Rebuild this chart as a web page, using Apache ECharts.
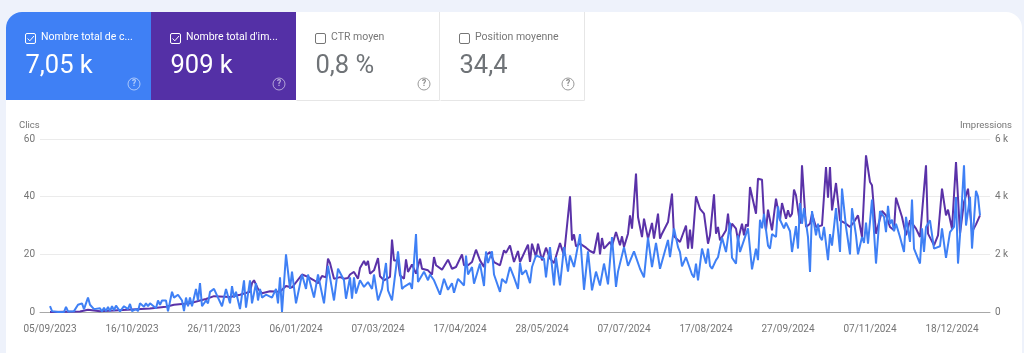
<!DOCTYPE html>
<html><head><meta charset="utf-8">
<style>html,body{margin:0;padding:0;background:#eef2fb;overflow:hidden}#c{width:1024px;height:353px}</style>
<script src="https://cdn.jsdelivr.net/npm/echarts@6/dist/echarts.min.js"></script>
</head><body><div id="c"></div>
<script>
// Each pair: [day index along the axis, value]
const clicks = [[0,2],[1,.3],[4,0],[7,0],[8,1.8],[9,.2],[12,.3],[14,2.5],[15,3],[16,3],[17,1],[19,5],[20,2.5],[22,1],[23,.7],[25,1.3],[26,.2],[27,1.5],[28,.3],[29,1.8],[30,.3],[31,2],[32,.6],[33,2.2],[35,.2],[37,2],[39,1],[40,2.8],[41,.3],[43,1],[44,.3],[45,3],[47,1.8],[48,3],[49,2],[50,3],[51,2.5],[53,1.3],[54,4],[55,2.5],[56,4],[58,4],[59,.2],[61,7],[62,5],[63,5],[64,6],[66,4],[67,.3],[68,5],[69,2],[70,5],[71,2],[73,8],[74,4],[75,10],[76,2],[78,4],[79,3],[80,7],[82,8],[84,5],[86,2],[88,8],[90,3],[91,9],[92,5],[93,7],[95,1],[97,11],[98,1.5],[100,11],[101,3],[103,10],[104,4],[105,8],[106,5],[108,6],[111,5],[113,8],[114,3],[115,12],[116,0],[118,20],[120,8],[121,14],[123,3],[126,13],[128,8],[129,13],[132,5],[134,13],[137,3],[139,16],[142,4],[144,15],[145,14.5],[147,11],[148,4.6],[150,12],[151,4.6],[152,12],[153,6.4],[155,11],[157,8.7],[159,10.4],[161,8],[162,13],[164,4],[166,8],[168,17],[169,7.5],[171,4],[174,21],[176,8],[177,8.7],[180,10],[181,8],[183,27],[184,10.4],[187,14],[189,11],[190,13],[192,11],[195,6],[197,11.5],[199,7.7],[201,10],[202,6.7],[204,11.5],[207,9.2],[208,19.6],[209,13],[211,15.6],[212,9.8],[215,16.8],[217,9],[218,21],[219,17],[221,21],[222,13],[225,7],[226,11.5],[228,10],[230,15.6],[232,12],[234,8],[235,17],[236,13],[238,14.5],[240,10],[241,15.6],[243,19.6],[247,18.5],[248,12],[249,18],[250,22.5],[252,9.2],[253,19],[255,9.2],[257,22.5],[259,14],[260,19.6],[262,15.6],[265,27],[267,7.7],[269,21],[271,7.5],[273,14],[275,9.2],[277,16.8],[279,9.6],[281,26],[283,8.7],[284,14],[287,22.5],[289,16],[290,16.2],[292,21],[295,15],[297,12],[299,25.8],[301,15.6],[303,24],[305,15],[309,25],[310,19],[312,29],[314,22.5],[315,20.8],[316,15.8],[318,19],[319,18.5],[321,13],[322,12],[323,16.8],[324,11],[326,22],[328,16.8],[329,22],[330,16],[331,15],[333,18],[334,19],[336,25.8],[338,20.8],[340,31],[341,18.8],[343,16.8],[344,26.6],[345,20.8],[348,27],[349,29],[351,14.8],[353,22],[354,18],[355,32],[356,29],[357,34],[359,23],[360,22],[361,27],[363,26],[364,36.6],[365,32],[367,29],[368,31],[370,28],[371,20.8],[373,29.8],[374,22],[375,37.8],[376,30.6],[377,36],[379,26],[380,13.9],[381,35],[383,26.6],[384,30.6],[385,26],[386,24.9],[387,29.5],[389,18],[390,27],[391,23],[393,36],[395,20.8],[396,42.8],[398,29.5],[400,20],[401,36],[403,26.6],[404,20],[406,26],[407,24],[408,31],[409,23.7],[411,39],[413,16.8],[415,35],[417,33],[418,27.7],[419,36.8],[420,30.6],[421,32],[422,28],[423,30.6],[425,26],[427,20.8],[428,33],[430,24.3],[431,39],[432,22],[433,22],[435,16.8],[436,29],[437,20.8],[438,29.5],[440,31.8],[442,22],[445,22.8],[446,29],[448,18.8],[450,27.7],[452,29.5],[453,39.9],[454,16.8],[455,26.6],[457,50.9],[458,30],[460,40],[461,22],[463,42],[464,40],[465,33.5]];
const impressions = [[0,0],[15,20],[19,80],[25,30],[32,50],[50,120],[58,180],[62,250],[70,300],[75,400],[78,450],[82,550],[90,520],[95,600],[100,700],[101,1000],[102,1100],[104,800],[106,650],[110,720],[115,700],[118,900],[121,850],[126,1300],[129,1220],[132,1100],[134,1000],[136,1250],[138,1200],[139,1850],[140,1700],[142,1150],[145,1210],[147,1156],[149,1180],[150,1300],[151,1270],[152,1390],[154,1156],[155,1526],[157,1770],[158,1620],[159,1770],[160,1330],[162,1445],[164,1870],[165,1237],[167,1100],[170,1214],[171,2510],[172,1790],[174,1790],[175,1270],[176,1330],[177,1156],[178,1826],[179,1390],[181,1650],[183,1330],[185,1850],[186,1500],[189,1445],[191,1295],[192,1907],[193,1620],[196,1468],[199,1815],[201,1500],[203,1560],[204,1500],[206,2000],[207,1620],[209,1620],[211,1734],[213,2160],[215,1790],[217,1560],[218,1965],[220,2080],[222,1734],[225,1620],[227,2140],[228,2050],[230,2310],[232,1734],[234,2115],[235,1734],[239,2335],[240,1734],[241,2370],[243,1907],[244,2370],[246,1790],[248,2230],[250,1850],[252,1700],[255,2390],[257,1965],[260,4010],[261,2485],[262,2690],[263,2277],[265,2370],[268,2230],[270,2115],[272,2046],[274,2750],[275,2000],[276,2566],[277,2197],[280,2427],[281,2290],[283,2775],[285,2312],[286,2624],[287,2254],[289,2716],[290,3352],[291,2890],[293,4800],[294,3295],[296,2600],[297,3237],[299,2543],[301,3087],[302,2543],[304,3410],[305,2543],[306,2716],[309,3120],[311,4104],[312,2624],[313,2624],[315,2428],[316,2370],[318,3000],[319,2200],[320,2855],[321,2200],[323,4010],[325,3580],[327,3410],[329,2370],[330,2660],[332,4080],[333,2717],[334,2950],[335,2486],[338,2832],[339,3410],[340,2717],[341,3064],[343,2890],[344,2486],[346,3064],[347,2660],[348,3040],[349,2970],[350,4335],[353,3410],[354,4624],[356,4590],[357,3295],[358,2832],[359,3550],[361,2832],[363,3930],[365,3180],[366,3780],[368,3237],[369,3526],[370,3295],[371,3410],[372,4243],[373,4046],[375,3064],[376,5087],[378,2948],[380,3064],[381,3410],[383,2948],[386,3005],[388,5029],[389,3965],[390,5029],[391,3526],[393,4474],[395,3180],[398,3064],[400,2948],[402,3121],[404,3353],[406,2601],[408,5434],[410,4509],[411,4393],[413,2717],[416,3503],[418,3353],[420,2948],[422,2832],[423,3965],[426,3295],[428,2659],[430,3179],[433,2890],[435,2601],[438,5087],[439,2717],[442,2312],[444,2659],[446,4277],[448,3353],[449,3549],[451,2890],[453,5202],[455,2717],[457,3815],[459,4277],[461,2775],[463,3040],[464,3064],[465,3353]];
const xTickDays = [0,41,82,123,164,205,246,287,328,369,410,451];
const xTickLabels = ['05/09/2023','16/10/2023','26/11/2023','06/01/2024','07/03/2024','17/04/2024','28/05/2024','07/07/2024','17/08/2024','27/09/2024','07/11/2024','18/12/2024'];
const leftTicks = ['0','20','40','60'];
const rightTicks = ['0','2 k','4 k','6 k'];
const tileNames = ['Nombre total de c...',"Nombre total d'im...",'CTR moyen','Position moyenne'];
const tileValues = ['7,05 k','909 k','0,8 %','34,4'];

const BLUE='#3f80f5', PURPLE='#5a32a8', TILE_PURPLE='#5430a6', GREY='#6f7377';
const F='Roboto, sans-serif';
const tileX=[6,151,296,440], tileR=[151,296,440,585];
const gfx=[];
gfx.push({type:'rect',z:-10,shape:{x:6,y:12,width:1016,height:360,r:[16,16,0,0]},style:{fill:'#fff'}});
tileNames.forEach((n,i)=>{
  const on=i<2, x=tileX[i], w=tileR[i]-x;
  const fg=on?'#fff':GREY;
  if(i===0) gfx.push({type:'rect',z:-5,shape:{x:x,y:12,width:w,height:88,r:[16,0,0,0]},style:{fill:BLUE}});
  else if(i===1) gfx.push({type:'rect',z:-5,shape:{x:x,y:12,width:w,height:88},style:{fill:TILE_PURPLE}});
  else gfx.push({type:'polyline',z:-5,shape:{points:[[x+.5,100.5],[x+w-.5,100.5],[x+w-.5,12]]},style:{fill:'none',stroke:'#e6e6e6',lineWidth:1}});
  const bx=x+20;
  gfx.push({type:'rect',shape:{x:bx-.5,y:33.5,width:10,height:10,r:1.5},style:{fill:'none',stroke:on?'#fff':'#757575',lineWidth:1}});
  if(on) gfx.push({type:'polyline',shape:{points:[[bx+1.6,38.5],[bx+3.8,40.8],[bx+8,36]]},style:{fill:'none',stroke:'#fff',lineWidth:1}});
  gfx.push({type:'text',style:{x:bx+15,y:37.5,text:n,fill:on?'#fff':'#777',font:'10.5px '+F,textVerticalAlign:'middle'}});
  gfx.push({type:'text',style:{x:bx-.5,y:66.5,text:tileValues[i],fill:fg,font:'25.5px '+F,textVerticalAlign:'middle'}});
  const hx=x+128;
  gfx.push({type:'circle',shape:{cx:hx,cy:84,r:6},style:{fill:'none',stroke:on?'rgba(255,255,255,.55)':'#9a9a9a',lineWidth:1}});
  gfx.push({type:'text',style:{x:hx,y:84,text:'?',fill:on?'rgba(255,255,255,.6)':'#8a8a8a',font:'bold 8.5px '+F,textAlign:'center',textVerticalAlign:'middle'}});
});
gfx.push({type:'text',style:{x:19,y:125.5,text:'Clics',fill:'#757575',font:'9.5px '+F,textVerticalAlign:'middle'}});
gfx.push({type:'text',style:{x:1012,y:125.5,text:'Impressions',fill:'#757575',font:'9.5px '+F,textAlign:'right',textVerticalAlign:'middle'}});

const chart=echarts.init(document.getElementById('c'),null,{renderer:'canvas'});
chart.setOption({
  animation:false,
  backgroundColor:'transparent',
  graphic:{elements:gfx},
  grid:{left:40,right:34,top:139,bottom:41},
  xAxis:{type:'value',min:-5,max:470,
    axisLine:{show:true,onZero:false,lineStyle:{color:'#a8a8a8',width:1}},
    axisTick:{show:false},splitLine:{show:false},
    axisLabel:{customValues:xTickDays,color:'#757575',fontSize:10,fontFamily:F,margin:12,hideOverlap:false,
      formatter:v=>xTickLabels[xTickDays.indexOf(v)]||''}},
  yAxis:[
    {type:'value',min:0,max:60,interval:20,position:'left',
     axisLine:{show:false},axisTick:{show:false},
     splitLine:{lineStyle:{color:'#ebebeb',width:1}},
     axisLabel:{color:'#757575',fontSize:10,fontFamily:F,margin:5,formatter:v=>leftTicks[v/20]}},
    {type:'value',min:0,max:6000,interval:2000,position:'right',
     axisLine:{show:false},axisTick:{show:false},splitLine:{show:false},
     axisLabel:{color:'#757575',fontSize:10,fontFamily:F,margin:5,formatter:v=>rightTicks[v/2000]}}
  ],
  series:[
    {name:'Impressions',type:'line',yAxisIndex:1,data:impressions,showSymbol:false,lineStyle:{color:PURPLE,width:2},itemStyle:{color:PURPLE},z:2},
    {name:'Clics',type:'line',yAxisIndex:0,data:clicks,showSymbol:false,lineStyle:{color:BLUE,width:2},itemStyle:{color:BLUE},z:3}
  ]
});
</script></body></html>
